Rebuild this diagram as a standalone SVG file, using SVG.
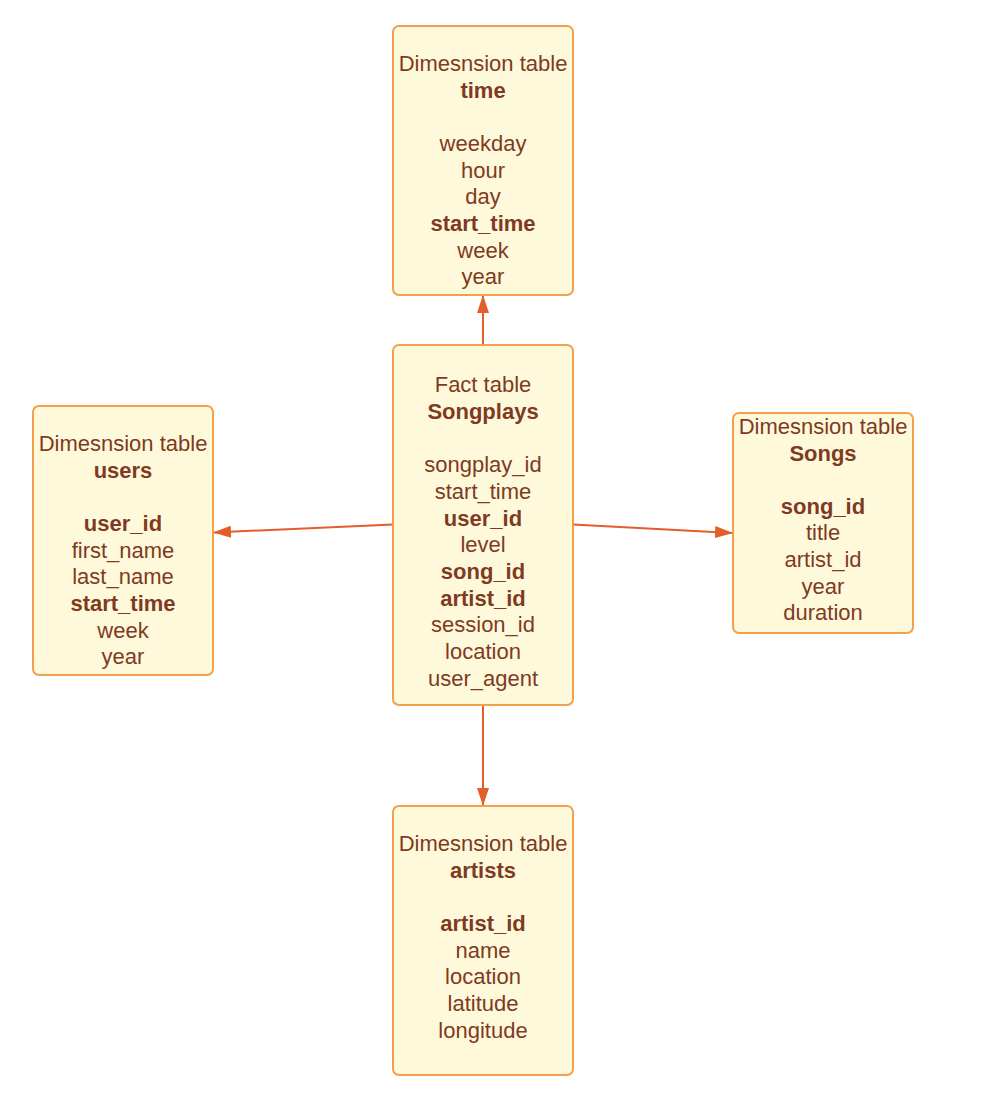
<svg xmlns="http://www.w3.org/2000/svg" width="986" height="1108" viewBox="0 0 986 1108">
<style>
.box{fill:#FFF9DB;stroke:#F2A04C;stroke-width:2}
text{font-family:"Liberation Sans",Arial,sans-serif;font-size:22px;fill:#7F3A22;text-anchor:middle}
.b{font-weight:bold}
.c{stroke:#E35E2B;stroke-width:2;fill:none}
</style>
<defs>
<marker id="ah" viewBox="0 0 18 12" refX="17" refY="6" markerWidth="18" markerHeight="12" markerUnits="userSpaceOnUse" orient="auto">
<path d="M0,0 L18,6 L0,12 Z" fill="#E35E2B"/>
</marker>
</defs>
<rect width="986" height="1108" fill="#FFFFFF"/>
<g id="connectors">
<line class="c" x1="483" y1="345" x2="483" y2="296" marker-end="url(#ah)"/>
<line class="c" x1="393" y1="524.5" x2="214" y2="532.5" marker-end="url(#ah)"/>
<line class="c" x1="573" y1="524.5" x2="732" y2="533" marker-end="url(#ah)"/>
<line class="c" x1="483" y1="705" x2="483" y2="805" marker-end="url(#ah)"/>
</g>
<g id="time">
<rect class="box" x="393" y="26" width="180" height="269" rx="6"/>
<text x="483" y="71">Dimesnsion table</text>
<text x="483" y="98" class="b">time</text>
<text x="483" y="151">weekday</text>
<text x="483" y="178">hour</text>
<text x="483" y="204">day</text>
<text x="483" y="231" class="b">start_time</text>
<text x="483" y="258">week</text>
<text x="483" y="284">year</text>
</g>
<g id="songplays">
<rect class="box" x="393" y="345" width="180" height="360" rx="6"/>
<text x="483" y="392">Fact table</text>
<text x="483" y="419" class="b">Songplays</text>
<text x="483" y="472">songplay_id</text>
<text x="483" y="499">start_time</text>
<text x="483" y="526" class="b">user_id</text>
<text x="483" y="552">level</text>
<text x="483" y="579" class="b">song_id</text>
<text x="483" y="606" class="b">artist_id</text>
<text x="483" y="632">session_id</text>
<text x="483" y="659">location</text>
<text x="483" y="686">user_agent</text>
</g>
<g id="users">
<rect class="box" x="33" y="406" width="180" height="269" rx="6"/>
<text x="123" y="451">Dimesnsion table</text>
<text x="123" y="478" class="b">users</text>
<text x="123" y="531" class="b">user_id</text>
<text x="123" y="558">first_name</text>
<text x="123" y="584">last_name</text>
<text x="123" y="611" class="b">start_time</text>
<text x="123" y="638">week</text>
<text x="123" y="664">year</text>
</g>
<g id="songs">
<rect class="box" x="733" y="413" width="180" height="220" rx="6"/>
<text x="823" y="434">Dimesnsion table</text>
<text x="823" y="461" class="b">Songs</text>
<text x="823" y="514" class="b">song_id</text>
<text x="823" y="540">title</text>
<text x="823" y="567">artist_id</text>
<text x="823" y="594">year</text>
<text x="823" y="620">duration</text>
</g>
<g id="artists">
<rect class="box" x="393" y="806" width="180" height="269" rx="6"/>
<text x="483" y="851">Dimesnsion table</text>
<text x="483" y="878" class="b">artists</text>
<text x="483" y="931" class="b">artist_id</text>
<text x="483" y="958">name</text>
<text x="483" y="984">location</text>
<text x="483" y="1011">latitude</text>
<text x="483" y="1038">longitude</text>
</g>
</svg>
